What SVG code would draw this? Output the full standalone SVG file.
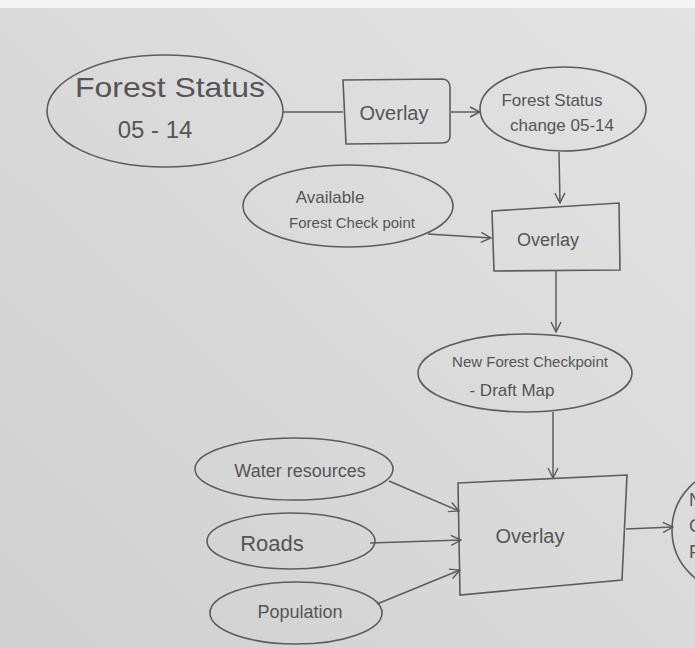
<svg xmlns="http://www.w3.org/2000/svg" width="695" height="648" viewBox="0 0 695 648">
<defs>
<linearGradient id="bg" x1="1" y1="0" x2="0" y2="1">
<stop offset="0" stop-color="#e3e3e3"/>
<stop offset="0.5" stop-color="#dadada"/>
<stop offset="1" stop-color="#d0d0d0"/>
</linearGradient>
<marker id="arr" viewBox="0 0 12 12" refX="11" refY="6" markerWidth="12" markerHeight="12" markerUnits="userSpaceOnUse" orient="auto">
<path d="M1,1 L11,6 L1,11" fill="none" stroke="#5a5a5a" stroke-width="1.4"/>
</marker>
<style>
.n{fill:none;stroke:#5c5c5c;stroke-width:1.6}
.c{fill:none;stroke:#5c5c5c;stroke-width:1.5}
.t{font-family:"Liberation Sans","DejaVu Sans",sans-serif;fill:#555;text-anchor:middle}
.p{font-family:"Liberation Sans","DejaVu Sans",sans-serif;fill:#555;font-size:18px}
</style>
</defs>
<rect width="695" height="648" fill="url(#bg)"/>
<rect width="695" height="8" fill="#f4f4f4"/>

<g id="forest-status">
<ellipse class="n" cx="165" cy="111" rx="118" ry="56"/>
<text class="t" x="170" y="97" font-size="28" textLength="190" lengthAdjust="spacingAndGlyphs">Forest Status</text>
<text class="t" x="155" y="138" font-size="24">05 - 14</text>
</g>

<g id="overlay1">
<path class="n" d="M343,80 L443,79 Q450,80 450,88 L450,136 Q450,143 442,143 L346,144 Z"/>
<text class="t" x="394" y="120" font-size="20">Overlay</text>
</g>

<g id="forest-change">
<ellipse class="n" cx="563" cy="109" rx="83" ry="42"/>
<text class="t" x="552" y="106" font-size="17">Forest Status</text>
<text class="t" x="562" y="131" font-size="17">change 05-14</text>
</g>

<g id="available">
<ellipse class="n" cx="348" cy="206" rx="105" ry="41"/>
<text class="t" x="330" y="203" font-size="17">Available</text>
<text class="t" x="352" y="228" font-size="15">Forest Check point</text>
</g>

<g id="overlay2">
<path class="n" d="M492,211 L619,203 L620,270 L494,271 Z"/>
<text class="t" x="548" y="246" font-size="18">Overlay</text>
</g>

<g id="new-checkpoint">
<ellipse class="n" cx="525" cy="373" rx="107" ry="39"/>
<text class="t" x="530" y="367" font-size="15">New Forest Checkpoint</text>
<text class="t" x="512" y="396" font-size="17">- Draft Map</text>
</g>

<g id="water">
<ellipse class="n" cx="294" cy="469" rx="99" ry="31"/>
<text class="t" x="300" y="477" font-size="18">Water resources</text>
</g>

<g id="roads">
<ellipse class="n" cx="291" cy="541" rx="84" ry="28"/>
<text class="t" x="272" y="551" font-size="22">Roads</text>
</g>

<g id="population">
<ellipse class="n" cx="296" cy="613" rx="86" ry="31"/>
<text class="t" x="300" y="618" font-size="18">Population</text>
</g>

<g id="overlay3">
<path class="n" d="M458,483 L627,475 L622,580 L460,595 Z"/>
<text class="t" x="530" y="543" font-size="20">Overlay</text>
</g>

<g id="output-partial">
<ellipse class="n" cx="730" cy="530" rx="58" ry="60"/>
<text class="p" x="689" y="506">N</text>
<text class="p" x="689" y="532">C</text>
<text class="p" x="689" y="558">F</text>
</g>

<g id="connectors">
<path class="c" d="M283,112 L343,112"/>
<path class="c" d="M451,112 L480,112" marker-end="url(#arr)"/>
<path class="c" d="M559,152 L560,203" marker-end="url(#arr)"/>
<path class="c" d="M428,234 L491,238" marker-end="url(#arr)"/>
<path class="c" d="M556,271 L556,332" marker-end="url(#arr)"/>
<path class="c" d="M553,412 L553,478" marker-end="url(#arr)"/>
<path class="c" d="M389,481 L459,511" marker-end="url(#arr)"/>
<path class="c" d="M370,543 L461,540" marker-end="url(#arr)"/>
<path class="c" d="M377,604 L460,570" marker-end="url(#arr)"/>
<path class="c" d="M626,529 L673,527" marker-end="url(#arr)"/>
</g>
</svg>
